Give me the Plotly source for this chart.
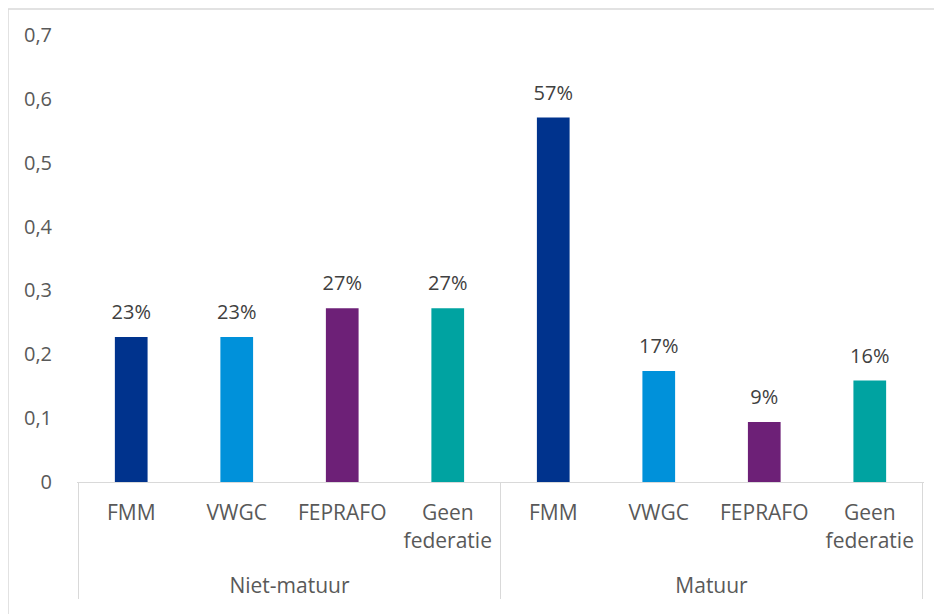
import plotly.graph_objects as go

groups = ["Niet-matuur"] * 4 + ["Matuur"] * 4
federaties = ["FMM", "VWGC", "FEPRAFO", "Geen<br>federatie<br>&nbsp;"] * 2
aandeel = [0.227, 0.227, 0.272, 0.272, 0.571, 0.174, 0.094, 0.159]
kleuren = ["#00338D", "#0091DA", "#6D2077", "#00A3A1"] * 2

fig = go.Figure()
fig.add_trace(go.Bar(
    x=[groups, federaties], y=aandeel,
    marker=dict(color=kleuren, line=dict(width=0)),
    width=0.31,
))
# percentage labels a bit above the bars
fig.add_trace(go.Scatter(
    x=[groups, federaties], y=aandeel,
    mode="markers+text",
    marker=dict(size=19, color="rgba(0,0,0,0)"),
    texttemplate="%{y:.0%}", textposition="top center",
    textfont=dict(size=20, color="#404040"),
    cliponaxis=False, hoverinfo="skip",
))

fig.update_layout(
    width=934, height=606,
    margin=dict(l=69, r=18, t=27, b=132),
    plot_bgcolor="white", paper_bgcolor="white",
    font=dict(family="Open Sans, Liberation Sans, sans-serif", size=20, color="#595959"),
    separators=",.",
    showlegend=False,
    xaxis=dict(
        automargin=False,
        showline=True, linecolor="#D9D9D9", linewidth=1,
        showdividers=True, dividercolor="#D9D9D9", dividerwidth=1,
        ticks="", ticklabelstandoff=12,
        tickfont=dict(size=21, color="#595959"),
    ),
    yaxis=dict(
        automargin=False,
        range=[0, 0.7], dtick=0.1,
        showgrid=False, zeroline=False, showline=False,
        ticks="outside", ticklen=20, tickcolor="white",
        tickfont=dict(size=20, color="#595959"),
    ),
)
fig.add_shape(type="rect", xref="paper", yref="paper",
              x0=-69 / 847, x1=1.2, y0=-0.5, y1=1 + 26 / 447,
              line=dict(color="#D9D9D9", width=1.5), layer="below")

fig.write_html("out.html")
